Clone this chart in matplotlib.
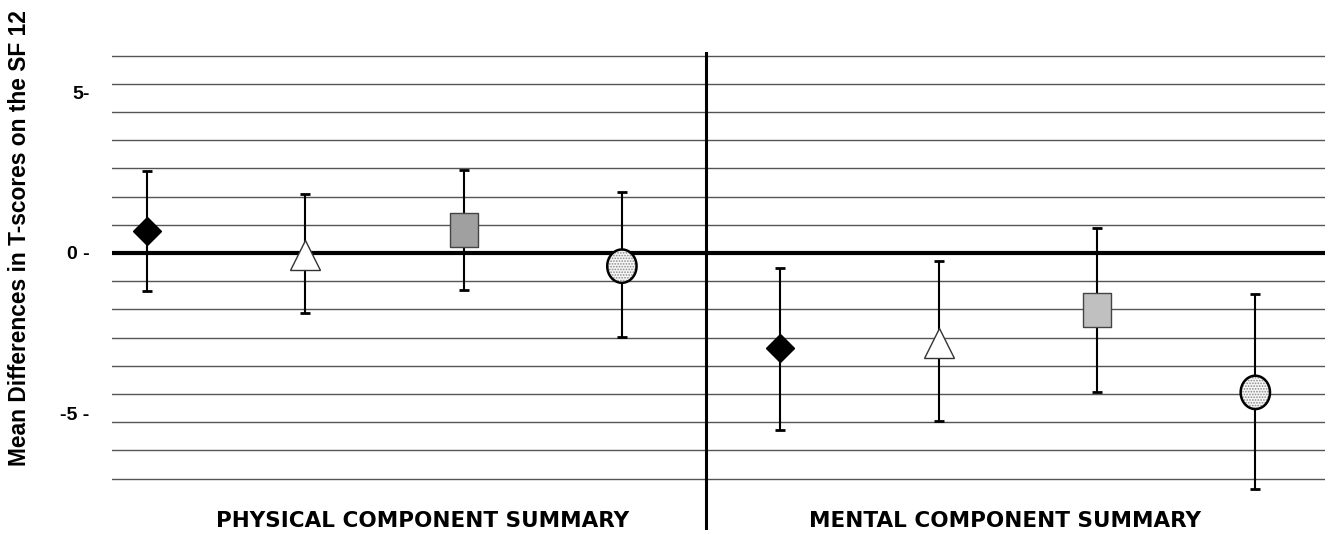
# SF-12 mean differences in T-scores, physical vs mental component summary.

import numpy as np
import matplotlib.pyplot as plt
from matplotlib.path import Path

# --------------------------- DATA ---------------------------

groups = ['PHYSICAL COMPONENT SUMMARY', 'MENTAL COMPONENT SUMMARY']
xpos = [1, 2, 3, 4, 5, 6, 7, 8]

# Mean difference and 95% CI bounds, in plotting order (diamond, triangle, square, circle) x2.
means = [0.69, -0.06, 0.73, -0.41, -2.97, -2.80, -1.78, -4.34]
upper = [2.56, 1.83, 2.59, 1.89, -0.48, -0.25, 0.78, -1.29]
lower = [-1.18, -1.88, -1.15, -2.61, -5.51, -5.23, -4.34, -7.36]

yticks = [-5, 0, 5]
ytick_labels = ['-5 -', '0 -', '5-']
ylabel = 'Mean Differences in T-scores on the SF 12'

# --------------------------- STYLE ---------------------------

plt.rcParams['font.family'] = ['Liberation Sans', 'DejaVu Sans']
plt.rcParams['hatch.linewidth'] = 0.8

fig = plt.figure(figsize=(13.33, 5.35), dpi=100)
ax = fig.add_axes([0.084, 0.009, 0.910, 0.894])

# Tall rectangle and ellipse markers (the original is slightly stretched vertically).
rect = [(-0.41, -0.5), (0.41, -0.5), (0.41, 0.5), (-0.41, 0.5), (-0.41, -0.5)]
t = np.linspace(0, 2 * np.pi, 60)
ellipse = Path(np.column_stack([0.44 * np.cos(t), 0.5 * np.sin(t)]), closed=True)

# --------------------------- PLOT ---------------------------

# Background gridlines.
step = 0.878
for k in range(-8, 8):
    if k == 0:
        continue
    ax.axhline(k * step, color='#555555', lw=1.0, zorder=1)
ax.axhline(0, color='black', lw=3.0, zorder=2)
ax.axvline(4.53, color='black', lw=2.2, zorder=2)

# Error bars.
means_a = np.array(means)
yerr = np.vstack([means_a - np.array(lower), np.array(upper) - means_a])
ax.errorbar(xpos, means, yerr=yerr, fmt='none', ecolor='black', elinewidth=1.5,
            capsize=3.3, capthick=2, zorder=3)

# Markers.
for i in range(2):
    o = i * 4
    ax.plot(xpos[o], means[o], marker='D', ms=14.5, mfc='black', mec='black', zorder=5)
    ax.plot(xpos[o + 1], means[o + 1], marker='^', ms=21, mfc='white', mec='#333333',
            mew=1.0, zorder=5)
    ax.plot(xpos[o + 2], means[o + 2], marker=rect, ms=24.5,
            mfc=['#a0a0a0', '#c0c0c0'][i], mec='#444444', mew=1.0, zorder=5)
    # stippled fill, then outline
    ax.scatter(xpos[o + 3], means[o + 3], marker=ellipse, s=24 ** 2, facecolor='#f6f6f6',
               edgecolor='#8a8a8a', linewidth=0, hatch='......', zorder=5)
    ax.scatter(xpos[o + 3], means[o + 3], marker=ellipse, s=24 ** 2, facecolor='none',
               edgecolor='black', linewidth=1.8, zorder=6)

# Group labels.
ax.text(2.74, -8.35, groups[0], ha='center', va='center', fontsize=15.5,
        fontweight='bold', family='DejaVu Sans')
ax.text(6.42, -8.35, groups[1], ha='center', va='center', fontsize=15.5,
        fontweight='bold', family='DejaVu Sans')

ax.set_xlim(0.78, 8.44)
ax.set_ylim(-8.63, 6.26)
ax.set_xticks([])
ax.set_yticks(yticks)
ax.set_yticklabels(ytick_labels, fontsize=14, fontweight='bold')
ax.tick_params(axis='y', length=0, pad=16)
for s in ax.spines.values():
    s.set_visible(False)

fig.text(0.015, 0.555, ylabel, rotation=90, ha='center', va='center',
         fontsize=16.4, fontweight='bold')

fig.savefig('out.png', dpi=100)
